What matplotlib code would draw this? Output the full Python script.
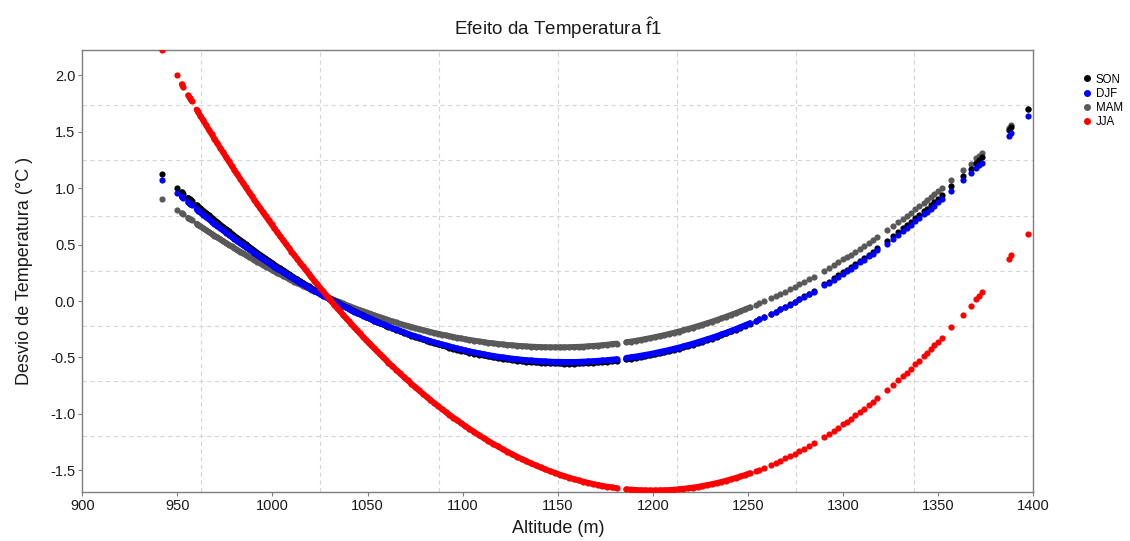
import numpy as np
import matplotlib
matplotlib.use("Agg")
import matplotlib.pyplot as plt
from matplotlib.lines import Line2D

# Station altitudes (m)
altitude = [
    942, 949.6, 952.3, 953.1, 955.7, 956.6, 957.5, 960.1, 961,
    962, 963.5, 965, 966.5, 968, 969.5, 971, 972.5, 974, 975.5, 977, 978.5, 980, 981.5, 983,
    984.5, 986, 987.5, 989, 990.5, 992, 993.5, 995, 996.5, 998, 999.5, 1001, 1002.5, 1004,
    1005.5, 1007, 1008.5, 1010, 1011.5, 1013, 1014.5, 1016, 1017.5, 1019, 1020.5, 1022,
    1023.5, 1025, 1026.5, 1028, 1029.5, 1031, 1032.5, 1034, 1035.5, 1037, 1038.5, 1040,
    1041.5, 1043, 1044.5, 1046, 1047.5, 1049, 1050.5, 1052, 1053.5, 1055, 1056.5, 1058,
    1059.5, 1061,
    1063, 1065, 1067, 1069, 1071, 1073, 1075, 1077, 1079, 1081, 1083, 1085, 1087, 1089,
    1091, 1093, 1095, 1097, 1099, 1101,
    1103.5, 1106, 1108.5, 1111, 1113.5, 1116, 1118.5, 1121, 1123.5, 1126, 1128.5, 1131,
    1133.5, 1136, 1138.5, 1141, 1143.5, 1146, 1148.5, 1151, 1153.5, 1156, 1158.5, 1161,
    1163.5, 1166, 1168.5, 1171, 1173.5, 1176, 1178.5, 1181,
    1186, 1188.5, 1191, 1193.5, 1196, 1198.5, 1201, 1203.5, 1206, 1208.5, 1211, 1213.5,
    1216, 1218.5, 1221, 1223.5, 1226, 1228.5, 1231, 1233.5, 1236, 1238.5, 1241, 1243.5,
    1246, 1248.5, 1251,
    1254, 1256, 1258.5, 1262, 1264.5, 1267, 1269.5, 1272, 1274.5, 1277, 1279.5, 1282,
    1284.5, 1290, 1292.5, 1295, 1297.5, 1300, 1302, 1304, 1306.5, 1309, 1311, 1313.5,
    1315.5, 1318, 1323, 1326.5, 1329, 1331.5, 1333.5, 1335.5, 1338, 1340, 1342.5, 1344,
    1346, 1348, 1350, 1352, 1357, 1363, 1367, 1370, 1371.5, 1373, 1387, 1388.5, 1397,
]

# Temperature deviation (°C) per season
son = [
    1.124, 1.006, 0.965, 0.953, 0.915, 0.901, 0.888, 0.850, 0.838,
    0.823, 0.802, 0.781, 0.760, 0.739, 0.718, 0.698, 0.677, 0.657, 0.637, 0.617, 0.598,
    0.578, 0.559, 0.540, 0.521, 0.502, 0.483, 0.465, 0.446, 0.428, 0.410, 0.392, 0.375,
    0.357, 0.340, 0.322, 0.305, 0.289, 0.272, 0.255, 0.239, 0.223, 0.207, 0.191, 0.175,
    0.160, 0.145, 0.129, 0.114, 0.099, 0.085, 0.070, 0.056, 0.042, 0.028, 0.014, 0.000,
    -0.013, -0.027, -0.040, -0.053, -0.066, -0.078, -0.091, -0.103, -0.115, -0.127,
    -0.139, -0.151, -0.162, -0.174, -0.185, -0.196, -0.207, -0.218, -0.228,
    -0.242, -0.255, -0.268, -0.281, -0.294, -0.306, -0.318, -0.330, -0.341, -0.352,
    -0.363, -0.374, -0.384, -0.394, -0.403, -0.413, -0.422, -0.431, -0.439, -0.447,
    -0.457, -0.466, -0.475, -0.483, -0.491, -0.499, -0.506, -0.512, -0.518, -0.524,
    -0.529, -0.534, -0.538, -0.542, -0.545, -0.548, -0.550, -0.552, -0.553, -0.554,
    -0.555, -0.555, -0.555, -0.554, -0.552, -0.550, -0.548, -0.545, -0.542, -0.538,
    -0.534, -0.529,
    -0.518, -0.512, -0.505, -0.498, -0.490, -0.482, -0.474, -0.464, -0.455, -0.445,
    -0.434, -0.423, -0.412, -0.400, -0.387, -0.374, -0.361, -0.347, -0.333, -0.318,
    -0.302, -0.287, -0.270, -0.253, -0.236, -0.218, -0.200,
    -0.178, -0.162, -0.143, -0.114, -0.093, -0.072, -0.050, -0.028, -0.005, 0.018,
    0.042, 0.066, 0.091, 0.147, 0.173, 0.200, 0.227, 0.255, 0.277, 0.300,
    0.329, 0.358, 0.382, 0.412, 0.437, 0.468, 0.532, 0.577, 0.611, 0.644,
    0.672, 0.699, 0.734, 0.763, 0.799, 0.820, 0.850, 0.879, 0.909, 0.939,
    1.016, 1.111, 1.175, 1.225, 1.250, 1.275, 1.517, 1.544, 1.700,
]

djf = [
    1.075, 0.962, 0.923, 0.911, 0.874, 0.861, 0.849, 0.812, 0.800,
    0.786, 0.766, 0.745, 0.725, 0.705, 0.685, 0.665, 0.646, 0.626, 0.607, 0.588, 0.569,
    0.550, 0.532, 0.513, 0.495, 0.477, 0.459, 0.441, 0.423, 0.406, 0.389, 0.371, 0.354,
    0.338, 0.321, 0.304, 0.288, 0.272, 0.256, 0.240, 0.224, 0.209, 0.193, 0.178, 0.163,
    0.148, 0.133, 0.118, 0.104, 0.090, 0.076, 0.062, 0.048, 0.034, 0.021, 0.007, -0.006,
    -0.019, -0.032, -0.044, -0.057, -0.069, -0.081, -0.093, -0.105, -0.117, -0.129,
    -0.140, -0.151, -0.162, -0.173, -0.184, -0.195, -0.205, -0.215, -0.225,
    -0.239, -0.252, -0.264, -0.277, -0.289, -0.301, -0.312, -0.323, -0.334, -0.345,
    -0.355, -0.366, -0.375, -0.385, -0.394, -0.403, -0.412, -0.420, -0.428, -0.436,
    -0.446, -0.455, -0.463, -0.471, -0.479, -0.486, -0.493, -0.499, -0.505, -0.510,
    -0.515, -0.520, -0.524, -0.527, -0.530, -0.533, -0.535, -0.537, -0.539, -0.539,
    -0.540, -0.540, -0.540, -0.539, -0.537, -0.535, -0.533, -0.530, -0.527, -0.524,
    -0.519, -0.515,
    -0.504, -0.498, -0.492, -0.485, -0.477, -0.470, -0.461, -0.452, -0.443, -0.434,
    -0.423, -0.413, -0.402, -0.390, -0.378, -0.365, -0.352, -0.339, -0.325, -0.311,
    -0.296, -0.281, -0.265, -0.249, -0.232, -0.215, -0.197,
    -0.175, -0.161, -0.142, -0.114, -0.094, -0.073, -0.052, -0.031, -0.009, 0.014,
    0.037, 0.060, 0.084, 0.138, 0.163, 0.189, 0.215, 0.242, 0.264, 0.286,
    0.314, 0.342, 0.365, 0.395, 0.418, 0.448, 0.510, 0.554, 0.586, 0.619,
    0.645, 0.672, 0.706, 0.733, 0.768, 0.789, 0.817, 0.846, 0.875, 0.904,
    0.978, 1.069, 1.132, 1.180, 1.204, 1.228, 1.462, 1.488, 1.639,
]

mam = [
    0.905, 0.811, 0.778, 0.769, 0.738, 0.727, 0.717, 0.686, 0.676,
    0.664, 0.647, 0.630, 0.614, 0.597, 0.580, 0.564, 0.548, 0.532, 0.516, 0.500, 0.484,
    0.469, 0.453, 0.438, 0.423, 0.408, 0.393, 0.378, 0.363, 0.349, 0.335, 0.320, 0.306,
    0.292, 0.279, 0.265, 0.251, 0.238, 0.225, 0.212, 0.199, 0.186, 0.173, 0.161, 0.148,
    0.136, 0.124, 0.112, 0.100, 0.088, 0.076, 0.065, 0.054, 0.042, 0.031, 0.020, 0.010,
    -0.001, -0.011, -0.022, -0.032, -0.042, -0.052, -0.062, -0.072, -0.081, -0.091,
    -0.100, -0.109, -0.118, -0.127, -0.136, -0.144, -0.153, -0.161, -0.169,
    -0.180, -0.190, -0.201, -0.211, -0.220, -0.230, -0.239, -0.248, -0.257, -0.265,
    -0.274, -0.282, -0.289, -0.297, -0.304, -0.311, -0.318, -0.325, -0.331, -0.337,
    -0.344, -0.351, -0.358, -0.364, -0.370, -0.375, -0.380, -0.384, -0.389, -0.392,
    -0.396, -0.399, -0.402, -0.404, -0.406, -0.408, -0.409, -0.410, -0.410, -0.410,
    -0.410, -0.409, -0.407, -0.406, -0.404, -0.401, -0.398, -0.395, -0.391, -0.387,
    -0.382, -0.377,
    -0.365, -0.359, -0.352, -0.345, -0.337, -0.329, -0.320, -0.311, -0.302, -0.292,
    -0.281, -0.271, -0.259, -0.248, -0.236, -0.223, -0.210, -0.197, -0.183, -0.169,
    -0.154, -0.139, -0.123, -0.108, -0.091, -0.074, -0.057,
    -0.036, -0.021, -0.003, 0.024, 0.044, 0.064, 0.084, 0.105, 0.126, 0.148,
    0.170, 0.193, 0.216, 0.268, 0.293, 0.318, 0.343, 0.369, 0.389, 0.411,
    0.437, 0.465, 0.487, 0.515, 0.538, 0.567, 0.626, 0.668, 0.699, 0.730,
    0.755, 0.781, 0.813, 0.839, 0.872, 0.892, 0.919, 0.946, 0.974, 1.002,
    1.073, 1.160, 1.219, 1.265, 1.288, 1.311, 1.533, 1.558, 1.701,
]

jja = [
    2.227, 2.001, 1.922, 1.898, 1.823, 1.798, 1.772, 1.698, 1.673,
    1.645, 1.603, 1.562, 1.520, 1.479, 1.439, 1.398, 1.358, 1.318, 1.279, 1.239, 1.200,
    1.161, 1.122, 1.084, 1.046, 1.008, 0.971, 0.933, 0.896, 0.860, 0.823, 0.787, 0.751,
    0.715, 0.680, 0.645, 0.610, 0.575, 0.541, 0.506, 0.473, 0.439, 0.406, 0.373, 0.340,
    0.307, 0.275, 0.243, 0.211, 0.180, 0.149, 0.118, 0.087, 0.057, 0.026, -0.003, -0.033,
    -0.062, -0.092, -0.120, -0.149, -0.177, -0.205, -0.233, -0.261, -0.288, -0.315,
    -0.342, -0.368, -0.394, -0.420, -0.446, -0.471, -0.496, -0.521, -0.546,
    -0.578, -0.610, -0.642, -0.673, -0.703, -0.733, -0.763, -0.792, -0.821, -0.849,
    -0.876, -0.904, -0.930, -0.957, -0.983, -1.008, -1.033, -1.057, -1.081, -1.105,
    -1.133, -1.161, -1.189, -1.215, -1.241, -1.266, -1.290, -1.314, -1.336, -1.359,
    -1.380, -1.401, -1.420, -1.440, -1.458, -1.476, -1.493, -1.509, -1.524, -1.539,
    -1.553, -1.566, -1.579, -1.591, -1.602, -1.612, -1.622, -1.631, -1.639, -1.646,
    -1.653, -1.659,
    -1.669, -1.672, -1.675, -1.678, -1.679, -1.680, -1.680, -1.679, -1.678, -1.676,
    -1.673, -1.669, -1.665, -1.660, -1.654, -1.648, -1.640, -1.632, -1.624, -1.614,
    -1.604, -1.593, -1.581, -1.569, -1.556, -1.542, -1.527,
    -1.509, -1.496, -1.479, -1.454, -1.436, -1.417, -1.396, -1.376, -1.354, -1.332,
    -1.309, -1.285, -1.261, -1.205, -1.178, -1.150, -1.122, -1.093, -1.069, -1.045,
    -1.014, -0.983, -0.957, -0.924, -0.897, -0.863, -0.792, -0.741, -0.703, -0.665,
    -0.634, -0.602, -0.562, -0.530, -0.488, -0.463, -0.429, -0.394, -0.359, -0.324,
    -0.233, -0.120, -0.043, 0.016, 0.047, 0.077, 0.373, 0.406, 0.598,
]

seasons = ["SON", "DJF", "MAM", "JJA"]
season_values = {"SON": son, "DJF": djf, "MAM": mam, "JJA": jja}
season_colors = {"SON": "#000000", "DJF": "#0000ff", "MAM": "#595959", "JJA": "#ff0000"}
draw_order = ["MAM", "SON", "DJF", "JJA"]

x_limits = (900, 1400)
y_limits = (-1.691, 2.226)
x_ticks = [900, 950, 1000, 1050, 1100, 1150, 1200, 1250, 1300, 1350, 1400]
y_ticks = [-1.5, -1.0, -0.5, 0.0, 0.5, 1.0, 1.5, 2.0]

# stations closer than this (m) overlap into a solid band up to dense_limit (m)
max_step = 2.55
dense_limit = 1252

plt.rcParams["font.family"] = ["Liberation Sans", "DejaVu Sans"]
plt.rcParams["axes.unicode_minus"] = False
plt.rcParams["mathtext.fontset"] = "custom"
plt.rcParams["mathtext.rm"] = "Liberation Sans"
plt.rcParams["mathtext.it"] = "Liberation Sans:italic"

fig = plt.figure(figsize=(11.3, 5.41), dpi=100)
ax = fig.add_axes([0.0728, 0.0911, 0.8416, 0.8165])

alt = np.asarray(altitude, dtype=float)
linked = (np.diff(alt) <= max_step) & (alt[1:] <= dense_limit)
for k, name in enumerate(draw_order):
    vals = np.asarray(season_values[name], dtype=float)
    color = season_colors[name]
    z = 3 + k
    # overlapping station markers in densely sampled stretches drawn as a solid band
    start = 0
    for i in range(len(alt)):
        if i == len(alt) - 1 or not linked[i]:
            if i > start:
                ax.plot(alt[start:i + 1], vals[start:i + 1], color=color, lw=4.2,
                        solid_capstyle="round", solid_joinstyle="round", zorder=z)
            start = i + 1
    ax.scatter(alt, vals, s=20, c=color, linewidths=0, zorder=z)

ax.set_xlim(*x_limits)
ax.set_ylim(*y_limits)

# dashed reference grid splitting each axis range into eight parts
for xv in np.linspace(x_limits[0], x_limits[1], 9)[1:-1]:
    ax.axvline(xv, color="#d6d6d6", lw=0.8, ls=(0, (4, 3)), zorder=1)
for yv in np.linspace(y_limits[0], y_limits[1], 9)[1:-1]:
    ax.axhline(yv, color="#d6d6d6", lw=0.8, ls=(0, (4, 3)), zorder=1)

ax.set_xticks(x_ticks)
ax.set_xticklabels([str(t) for t in x_ticks])
ax.set_yticks(y_ticks)
ax.set_yticklabels([f"{t:.1f}" for t in y_ticks])
ax.tick_params(direction="out", length=3, width=0.8, color="#7f7f7f",
               labelsize=10.5, labelcolor="#1a1a1a", pad=2)
for sp in ax.spines.values():
    sp.set_color("#7f7f7f")
    sp.set_linewidth(1.0)

ax.set_xlabel("Altitude (m)", fontsize=13, color="#1a1a1a", labelpad=5)
ax.set_ylabel("Desvio de Temperatura (°C )", fontsize=13, color="#1a1a1a", labelpad=12)

fig.text(0.4936, 0.948, r"Efeito da Temperatura $\hat{\mathrm{f}}$1",
         ha="center", va="center", fontsize=13.5, color="#1a1a1a")

handles = [Line2D([], [], marker="o", ls="", color=season_colors[s], markersize=4)
           for s in seasons]
fig.legend(handles, seasons, loc="upper left", bbox_to_anchor=(1082 / 1130, 1 - 73.5 / 541),
           frameon=False, fontsize=8.3, handlelength=0.8, handletextpad=0.4,
           labelspacing=0.2, borderaxespad=0, borderpad=0)

fig.savefig("out.png", dpi=100)
